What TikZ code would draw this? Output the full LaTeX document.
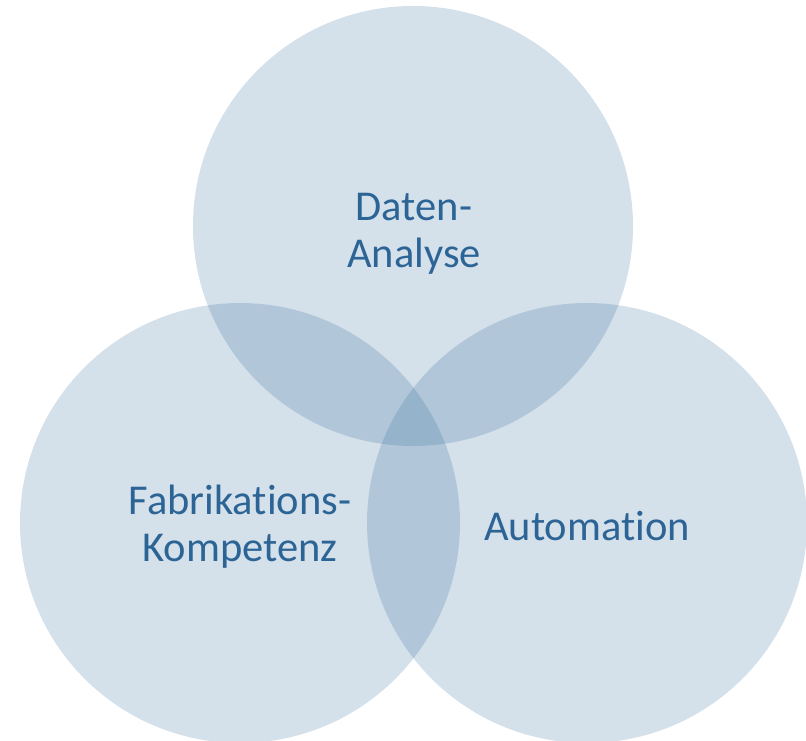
\documentclass[tikz,border=0pt]{standalone}
\usepackage{fontspec}
\setmainfont{Carlito}[RawFeature={-liga;-clig;-calt;-dlig}]
\definecolor{vennfill}{RGB}{40,100,150}
\definecolor{venntext}{RGB}{45,100,150}
\begin{document}
\begin{tikzpicture}[x=1pt,y=-1pt,
  venn/.style={circle,fill=vennfill,fill opacity=0.2,draw=none,minimum size=440pt,inner sep=0pt},
  lbl/.style={text=venntext,align=center,font=\fontsize{42.5}{47}\selectfont,inner sep=0pt}]
\useasboundingbox (0,0) rectangle (806,741);
\node[venn] (top) at (413,226) {};
\node[venn] (left) at (240,523) {};
\node[venn] (right) at (587,523) {};
\node[lbl] (t1) at (414,234) {Daten-\\Analyse};
\node[lbl] (t2) at (240,527) {Fabrikations-\\Kompetenz};
\node[lbl] (t3) at (587,526) {Automation};
\end{tikzpicture}
\end{document}
